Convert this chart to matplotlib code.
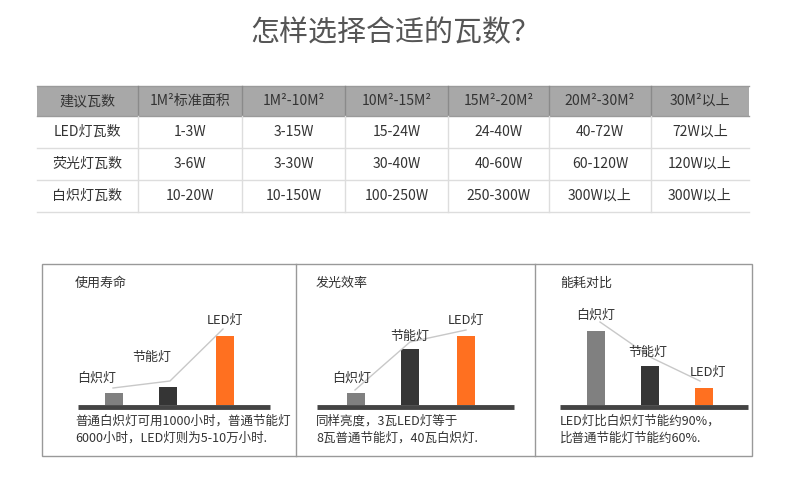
import matplotlib
matplotlib.use("Agg")
import matplotlib.pyplot as plt
from matplotlib.patches import Rectangle

plt.rcParams["font.family"] = ["Noto Sans CJK SC", "DejaVu Sans"]

title = "怎样选择合适的瓦数？"
header = ["建议瓦数", "1M²标准面积", "1M²-10M²", "10M²-15M²", "15M²-20M²", "20M²-30M²", "30M²以上"]
rows = [
    ["LED灯瓦数", "1-3W", "3-15W", "15-24W", "24-40W", "40-72W", "72W以上"],
    ["荧光灯瓦数", "3-6W", "3-30W", "30-40W", "40-60W", "60-120W", "120W以上"],
    ["白炽灯瓦数", "10-20W", "10-150W", "100-250W", "250-300W", "300W以上", "300W以上"],
]
lamps = ["白炽灯", "节能灯", "LED灯"]
panel_titles = ["使用寿命", "发光效率", "能耗对比"]
life = [12, 18, 69]
efficiency = [12, 56, 69]
energy = [74, 39, 17]
captions = [
    ["普通白炽灯可用1000小时，普通节能灯", "6000小时，LED灯则为5-10万小时."],
    ["同样亮度，3瓦LED灯等于", "8瓦普通节能灯，40瓦白炽灯."],
    ["LED灯比白炽灯节能约90%，", "比普通节能灯节能约60%."],
]

W, H = 790, 488
fig = plt.figure(figsize=(7.9, 4.88), dpi=100)
ax = fig.add_axes([0, 0, 1, 1])
ax.set_xlim(0, W)
ax.set_ylim(0, H)
ax.axis("off")
Y = lambda p: H - p
pt = 0.72

ax.text(395, Y(33), title, ha="center", va="center", fontsize=29 * pt, color="#555555")

# table
cols = [37, 138, 242, 345, 448, 549, 651, 749]
rys = [86, 116, 148, 180, 212]
ax.add_patch(Rectangle((cols[0], Y(rys[1])), cols[-1] - cols[0], rys[1] - rys[0], color="#a8a8a8", lw=0))
for r in rys:
    ax.plot([cols[0], cols[-1]], [Y(r), Y(r)], color="#9a9a9a" if r <= 116 else "#dddddd", lw=1)
for c in cols[1:-1]:
    ax.plot([c, c], [Y(rys[0]), Y(rys[1])], color="#8a8a8a", lw=1)
    ax.plot([c, c], [Y(rys[1]), Y(rys[-1])], color="#dddddd", lw=1)
for ri, row in enumerate([header] + rows):
    yc = (rys[ri] + rys[ri + 1]) / 2
    for ci, t in enumerate(row):
        ax.text((cols[ci] + cols[ci + 1]) / 2, Y(yc), t, ha="center", va="center",
                fontsize=14 * pt, color="#333333")

# panels
ax.add_patch(Rectangle((42, Y(456)), 710, 192, fill=False, ec="#999999", lw=1))
for d in [296, 535]:
    ax.plot([d, d], [Y(264), Y(456)], color="#999999", lw=1)

panels = [
    dict(data=life, x0=75, base=(78, 270), bars=[114, 168, 225],
         lbl=[(97, 378), (152, 357), (225, 320)], line=[(113, 388), (170, 381), (223, 329)]),
    dict(data=efficiency, x0=316, base=(317, 514), bars=[356, 410, 466],
         lbl=[(352, 378), (410, 336), (466, 320)], line=[(355, 390), (410, 342), (466, 330)]),
    dict(data=energy, x0=560, base=(560, 748), bars=[596, 650, 704],
         lbl=[(596, 315), (648, 352), (708, 372)], line=[(600, 322), (652, 358), (700, 381)]),
]
colors = ["#808080", "#353535", "#ff7020"]
baseline = 405
for i, p in enumerate(panels):
    ax.text(p["x0"], Y(283), panel_titles[i], ha="left", va="center", fontsize=13 * pt, color="#333333")
    xs, ys = zip(*p["line"])
    ax.plot(xs, [Y(v) for v in ys], color="#c8c8c8", lw=1)
    ax.bar(p["bars"], p["data"], width=18, bottom=Y(baseline), color=colors)
    ax.plot(p["base"], [Y(baseline + 1.5)] * 2, color="#444444", lw=3.5, solid_capstyle="butt")
    for (lx, ly), t in zip(p["lbl"], lamps):
        ax.text(lx, Y(ly), t, ha="center", va="center", fontsize=13 * pt, color="#333333")
    for k, c in enumerate(captions[i]):
        ax.text(p["x0"], Y(421 + 17 * k), c, ha="left", va="center", fontsize=12.5 * pt, color="#333333")

fig.savefig("out.png", dpi=100, facecolor="white")
